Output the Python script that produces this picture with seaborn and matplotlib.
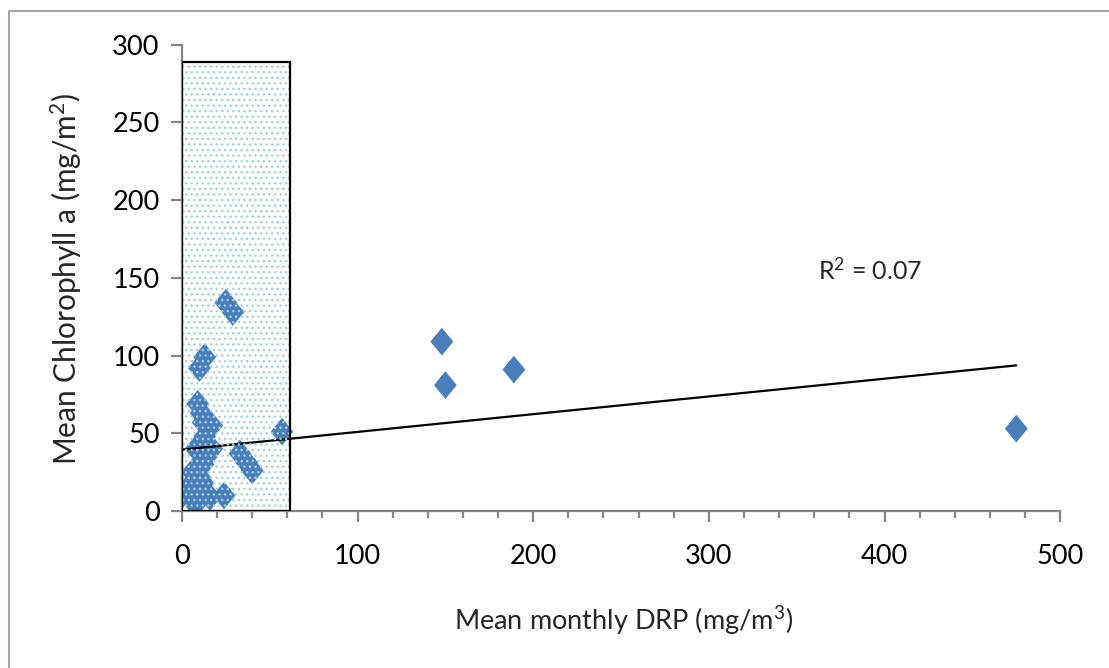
import numpy as np
import pandas as pd
import seaborn as sns
import matplotlib.pyplot as plt
from matplotlib.patches import Rectangle
from matplotlib.path import Path

# values
drp = [0.5, 3, 5, 8, 12, 10, 16, 24, 6, 9, 14, 12, 8, 13, 17, 12, 17, 11, 9,
       10, 13, 25, 29, 33, 37, 40, 57, 4, 7, 9, 11, 5,
       148, 150, 189, 475]
chla = [11, 12, 8, 15, 18, 22, 9, 10, 25, 28, 35, 30, 40, 48, 40, 57, 55, 63, 69,
        92, 99, 134, 128, 37, 31, 26, 51, 14, 10, 6, 13, 17,
        109, 81, 91, 53]
r2_label = "R$^{2}$ = 0.07"
xlabel = "Mean monthly DRP (mg/m$^{3}$)"
ylabel = "Mean Chlorophyll a (mg/m$^{2}$)"

# shaded low-DRP zone
zone_x = (0, 61.5)
zone_top = 289

df = pd.DataFrame({"drp": drp, "chla": chla})

sns.set_style("white")
plt.rcParams['font.family'] = ['Lato', 'DejaVu Sans']
plt.rcParams['mathtext.fontset'] = 'custom'
plt.rcParams['mathtext.rm'] = 'Lato'
plt.rcParams['mathtext.it'] = 'Lato'
plt.rcParams['mathtext.default'] = 'regular'

fig = plt.figure(figsize=(11.09, 6.68), dpi=100)
ax = fig.add_axes([0.164, 0.235, 0.792, 0.698])

diamond = Path([(0, 1), (0.82, 0), (0, -1), (-0.82, 0), (0, 1)],
               [Path.MOVETO, Path.LINETO, Path.LINETO, Path.LINETO, Path.CLOSEPOLY])

sns.scatterplot(data=df, x="drp", y="chla", marker=diamond, s=400,
                color="#4A7EBB", edgecolor="none", linewidth=0, ax=ax, zorder=3)
sns.regplot(data=df, x="drp", y="chla", scatter=False, ci=None, ax=ax,
            line_kws={"color": "black", "lw": 1.6, "zorder": 4})

ax.add_patch(Rectangle((zone_x[0], 0), zone_x[1] - zone_x[0], zone_top,
                       facecolor="none", edgecolor="#9ED3D8", lw=0,
                       hatch="...", zorder=5))
ax.add_patch(Rectangle((zone_x[0], 0), zone_x[1] - zone_x[0], zone_top,
                       facecolor="none", edgecolor="black", lw=1.6, zorder=6))

ax.text(362, 155, r2_label, fontsize=18, ha="left", va="center")

ax.set_xlim(0, 500)
ax.set_ylim(0, 300)
ax.set_xticks(range(0, 501, 100))
ax.set_xticks(range(0, 501, 20), minor=True)
ax.set_yticks(range(0, 301, 50))

for s in ["top", "right"]:
    ax.spines[s].set_visible(False)
for s in ["left", "bottom"]:
    ax.spines[s].set_color("#868686")
    ax.spines[s].set_linewidth(1.6)

ax.tick_params(axis="both", which="both", direction="out", color="#868686",
               width=1.6, labelsize=19.5, labelcolor="black")
ax.tick_params(axis="x", which="major", length=8, pad=16, bottom=True)
ax.tick_params(axis="x", which="minor", length=5, bottom=True)
ax.tick_params(axis="y", which="major", length=8, pad=8, left=True)

ax.set_xlabel(xlabel, fontsize=19.5)
ax.set_ylabel(ylabel, fontsize=21.5)
ax.xaxis.set_label_coords(0.503, -0.2)
ax.yaxis.set_label_coords(-0.111, 0.497)

# chart area frame
fig.patches.append(Rectangle((0.008, -0.1), 2, 0.9835 + 0.1, transform=fig.transFigure,
                             facecolor="none", edgecolor="#A6A6A6", lw=1.5))

fig.savefig("out.png", dpi=100)
